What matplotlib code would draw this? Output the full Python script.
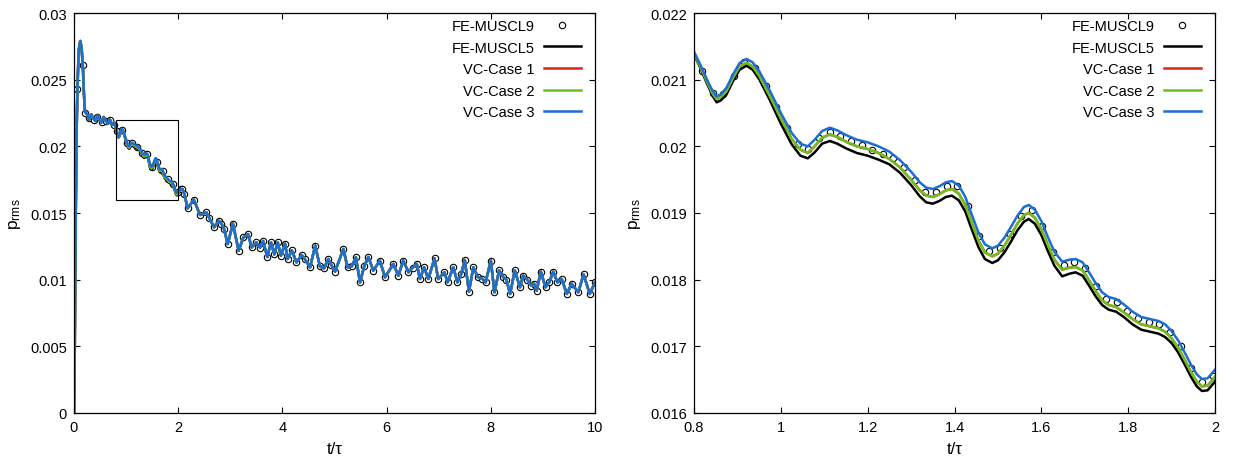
import numpy as np
import matplotlib
matplotlib.use("Agg")
import matplotlib.pyplot as plt
from matplotlib.ticker import FormatStrFormatter
from matplotlib.patches import Rectangle

plt.rcParams['font.family'] = ['Liberation Sans', 'DejaVu Sans']
plt.rcParams['mathtext.fontset'] = 'custom'
plt.rcParams['mathtext.rm'] = 'Liberation Sans'
plt.rcParams['mathtext.it'] = 'Liberation Sans:italic'

# ---- zoomed window 0.8 <= t/tau <= 2 (lines) ----
t_zoom = [0.800, 0.815, 0.830, 0.842, 0.852, 0.862, 0.875, 0.890, 0.905, 0.921, 0.935, 0.950,
          0.975, 1.000, 1.025, 1.045, 1.062, 1.078, 1.095, 1.113, 1.130, 1.150, 1.175, 1.200,
          1.225, 1.250, 1.275, 1.300, 1.320, 1.335, 1.350, 1.365, 1.380, 1.394, 1.410, 1.425,
          1.440, 1.455, 1.470, 1.487, 1.500, 1.515, 1.530, 1.545, 1.560, 1.571, 1.585, 1.600,
          1.615, 1.630, 1.648, 1.665, 1.679, 1.695, 1.710, 1.725, 1.740, 1.755, 1.772, 1.790,
          1.810, 1.830, 1.850, 1.870, 1.885, 1.900, 1.915, 1.930, 1.945, 1.958, 1.970, 1.983,
          2.000]
p_case3 = [0.02142, 0.02122, 0.02100, 0.02084, 0.02075, 0.02078, 0.02088, 0.02108, 0.02125,
           0.02131, 0.02126, 0.02113, 0.02083, 0.02050, 0.02020, 0.02004, 0.02000, 0.02010,
           0.02023, 0.02028, 0.02024, 0.02017, 0.02010, 0.02006, 0.02000, 0.01992, 0.01979,
           0.01962, 0.01946, 0.01938, 0.01936, 0.01940, 0.01946, 0.01948, 0.01941, 0.01924,
           0.01897, 0.01871, 0.01853, 0.01847, 0.01851, 0.01863, 0.01879, 0.01896, 0.01909,
           0.01912, 0.01905, 0.01888, 0.01864, 0.01842, 0.01827, 0.01830, 0.01831, 0.01826,
           0.01811, 0.01795, 0.01781, 0.01774, 0.01771, 0.01763, 0.01752, 0.01744, 0.01741,
           0.01738, 0.01733, 0.01723, 0.01709, 0.01691, 0.01672, 0.01658, 0.01651, 0.01652,
           0.01665]
p_muscl5 = [0.02138, 0.02117, 0.02094, 0.02077, 0.02066, 0.02069, 0.02078, 0.02098, 0.02115,
            0.02121, 0.02115, 0.02101, 0.02069, 0.02034, 0.02003, 0.01986, 0.01982, 0.01991,
            0.02004, 0.02008, 0.02004, 0.01997, 0.01990, 0.01986, 0.01980, 0.01973, 0.01960,
            0.01942, 0.01925, 0.01916, 0.01914, 0.01918, 0.01924, 0.01926, 0.01919, 0.01902,
            0.01875, 0.01849, 0.01831, 0.01825, 0.01829, 0.01841, 0.01857, 0.01874, 0.01887,
            0.01891, 0.01884, 0.01867, 0.01843, 0.01821, 0.01805, 0.01809, 0.01811, 0.01806,
            0.01791, 0.01775, 0.01762, 0.01755, 0.01752, 0.01744, 0.01733, 0.01725, 0.01722,
            0.01719, 0.01714, 0.01705, 0.01691, 0.01673, 0.01654, 0.01640, 0.01633, 0.01634,
            0.01647]
p_case2 = [0.02140, 0.02119, 0.02097, 0.02080, 0.02071, 0.02074, 0.02083, 0.02103, 0.02120,
           0.02125, 0.02120, 0.02106, 0.02075, 0.02042, 0.02011, 0.01995, 0.01990, 0.02000,
           0.02013, 0.02018, 0.02014, 0.02007, 0.02000, 0.01996, 0.01990, 0.01981, 0.01968,
           0.01950, 0.01934, 0.01926, 0.01924, 0.01928, 0.01934, 0.01936, 0.01929, 0.01912,
           0.01885, 0.01859, 0.01841, 0.01835, 0.01839, 0.01851, 0.01867, 0.01884, 0.01897,
           0.01900, 0.01893, 0.01876, 0.01852, 0.01830, 0.01815, 0.01818, 0.01819, 0.01814,
           0.01799, 0.01783, 0.01769, 0.01762, 0.01759, 0.01751, 0.01741, 0.01733, 0.01730,
           0.01727, 0.01722, 0.01712, 0.01698, 0.01680, 0.01661, 0.01647, 0.01640, 0.01641,
           0.01654]
# case 1 is hidden under case 2 over the whole window
p_case1 = list(p_case2)

# FE-MUSCL9 samples in the zoomed window
t9_zoom = 0.8183 + 0.0245 * np.arange(49)
p9_zoom = [0.02113, 0.02080, 0.02078, 0.02106, 0.02126, 0.02117, 0.02090, 0.02059, 0.02028,
           0.02004, 0.01996, 0.02012, 0.02022, 0.02016, 0.02008, 0.02002, 0.01995, 0.01988,
           0.01982, 0.01969, 0.01950, 0.01932, 0.01931, 0.01940, 0.01940, 0.01910, 0.01866,
           0.01843, 0.01847, 0.01869, 0.01895, 0.01904, 0.01880, 0.01842, 0.01822, 0.01826,
           0.01817, 0.01790, 0.01771, 0.01766, 0.01753, 0.01742, 0.01737, 0.01733, 0.01721,
           0.01700, 0.01667, 0.01647, 0.01656]

# ---- full history: start-up (t < 0.8) and long time (t > 2) ----
t_early = [0.0, 0.01, 0.03, 0.05, 0.065, 0.09, 0.12, 0.145, 0.17, 0.19, 0.21, 0.25, 0.29,
           0.33, 0.37, 0.41, 0.45, 0.49, 0.53, 0.57, 0.61, 0.65, 0.69, 0.73, 0.77]
p_early = [0.0, 0.0020, 0.0136, 0.0210, 0.0242, 0.0272, 0.0279, 0.0274, 0.0260, 0.0240,
           0.0226, 0.0224, 0.0220, 0.0224, 0.0221, 0.0219, 0.0223, 0.0220, 0.0218, 0.0222,
           0.0219, 0.0217, 0.0220, 0.0216, 0.0218]
t9_early = [0.06, 0.17, 0.22, 0.29, 0.38, 0.45, 0.54, 0.62, 0.70, 0.76]
p9_early = [0.0243, 0.0261, 0.0225, 0.0221, 0.0220, 0.0222, 0.0218, 0.0219, 0.0220, 0.0216]

t_late = [2.05, 2.08, 2.12, 2.18, 2.30, 2.42, 2.54, 2.60, 2.69, 2.78, 2.83, 2.88, 2.95,
          3.05, 3.16, 3.25, 3.34, 3.41, 3.50, 3.57, 3.63, 3.71, 3.78, 3.845, 3.91, 3.97,
          4.05, 4.10, 4.18, 4.27, 4.37, 4.43, 4.53, 4.63, 4.72, 4.80, 4.88, 4.94, 5.01,
          5.17, 5.25, 5.33, 5.41, 5.49, 5.57, 5.65, 5.745, 5.87, 5.97, 6.13, 6.225, 6.32,
          6.42, 6.50, 6.58, 6.64, 6.72, 6.80, 6.92, 6.99, 7.11, 7.17, 7.28, 7.36, 7.43,
          7.50, 7.58, 7.665, 7.75, 7.84, 7.90, 8.00, 8.07, 8.16, 8.24, 8.30, 8.37, 8.46,
          8.56, 8.62, 8.70, 8.78, 8.83, 8.88, 8.96, 9.05, 9.12, 9.20, 9.28, 9.36, 9.46,
          9.55, 9.68, 9.78, 9.90, 10.0]
p_late = [0.01678, 0.01680, 0.01640, 0.01535, 0.01600, 0.01485, 0.01505, 0.01460, 0.01393,
          0.01442, 0.01420, 0.01380, 0.01267, 0.01420, 0.01217, 0.01317, 0.01342, 0.01242,
          0.01280, 0.01240, 0.01290, 0.01170, 0.01280, 0.01190, 0.01280, 0.01180, 0.01270,
          0.01155, 0.01220, 0.01130, 0.01185, 0.01155, 0.01093, 0.01255, 0.01100, 0.01085,
          0.01155, 0.01110, 0.01060, 0.01230, 0.01093, 0.01100, 0.01168, 0.00980, 0.01100,
          0.01170, 0.01068, 0.01143, 0.01018, 0.01118, 0.01030, 0.01143, 0.01055, 0.01090,
          0.01118, 0.01005, 0.01093, 0.01005, 0.01160, 0.01005, 0.01055, 0.00980, 0.01093,
          0.00980, 0.01040, 0.01148, 0.00910, 0.01093, 0.01020, 0.01005, 0.00980, 0.01143,
          0.00905, 0.01070, 0.01018, 0.01000, 0.00893, 0.01070, 0.00943, 0.01030, 0.01000,
          0.00955, 0.00970, 0.00918, 0.01060, 0.00943, 0.00980, 0.01060, 0.00980, 0.01005,
          0.00893, 0.00970, 0.00905, 0.01040, 0.00893, 0.00980]

C_BLACK = 'black'
C_RED = '#e3201b'
C_GREEN = '#6ac21d'
C_BLUE = '#1b6fd3'
LW = 1.8
labels = ['FE-MUSCL9', 'FE-MUSCL5', 'VC-Case 1', 'VC-Case 2', 'VC-Case 3']


def draw(ax, t, lines, t9, p9):
    ax.plot(t9, p9, linestyle='none', marker='o', ms=4.6, mfc='white', mec='black',
            mew=0.8, label=labels[0])
    for p, c, lab in zip(lines, [C_BLACK, C_RED, C_GREEN, C_BLUE], labels[1:]):
        ax.plot(t, p, color=c, lw=LW, label=lab)
    ax.legend(loc='upper right', bbox_to_anchor=(0.974, 0.985), frameon=False,
              markerfirst=False, fontsize=10.5, handlelength=2.6, handletextpad=0.6,
              labelspacing=0.52, borderpad=0, borderaxespad=0)
    ax.tick_params(direction='in', top=True, right=True, length=4, width=0.8,
                   labelsize=10.5, pad=5)
    for s in ax.spines.values():
        s.set_linewidth(0.9)
    ax.set_xlabel('t/\u03c4', fontsize=12, labelpad=5)
    ax.set_ylabel(r'p$_{\mathrm{rms}}$', fontsize=12.5, labelpad=5)


fig = plt.figure(figsize=(12.33, 4.64), dpi=100)
ax1 = fig.add_axes([74 / 1233, 50 / 464, 521 / 1233, 400 / 464])
ax2 = fig.add_axes([694 / 1233, 50 / 464, 521 / 1233, 400 / 464])

# left: whole history
t_all = np.concatenate([t_early, t_zoom, t_late])
lines_all = [np.concatenate([p_early, p, p_late]) for p in (p_muscl5, p_case1, p_case2, p_case3)]
t9_all = np.concatenate([t9_early, t9_zoom[::4], t_late])
p9_all = np.concatenate([p9_early, np.asarray(p9_zoom)[::4], p_late])
draw(ax1, t_all, lines_all, t9_all, p9_all)
ax1.set_xlim(0, 10)
ax1.set_ylim(0, 0.03)
ax1.set_xticks(np.arange(0, 11, 2))
ax1.set_yticks(np.arange(0, 0.0301, 0.005))
ax1.yaxis.set_major_formatter(FormatStrFormatter('%g'))
ax1.xaxis.set_major_formatter(FormatStrFormatter('%g'))
ax1.add_patch(Rectangle((0.8, 0.016), 1.2, 0.006, fill=False, ec='black', lw=0.8, zorder=5))

# right: zoom
draw(ax2, t_zoom, [p_muscl5, p_case1, p_case2, p_case3], t9_zoom, p9_zoom)
ax2.set_xlim(0.8, 2.0)
ax2.set_ylim(0.016, 0.022)
ax2.set_xticks(np.arange(0.8, 2.01, 0.2))
ax2.set_yticks(np.arange(0.016, 0.02201, 0.001))
ax2.yaxis.set_major_formatter(FormatStrFormatter('%g'))
ax2.xaxis.set_major_formatter(FormatStrFormatter('%g'))

fig.savefig('out.png', dpi=100)
